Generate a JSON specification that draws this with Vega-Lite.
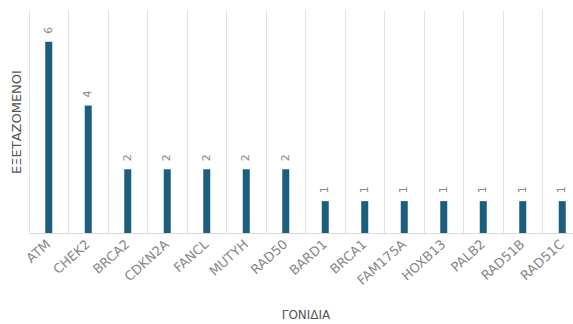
{
  "$schema": "https://vega.github.io/schema/vega-lite/v6.json",
  "autosize": {"type": "none"},
  "padding": {"left": 29, "top": 10, "right": -9, "bottom": 91},
  "width": 553,
  "height": 223,
  "background": "white",
  "config": {"view": {"stroke": null}, "font": "Roboto"},
  "data": {"values": [
    {"gene": "ATM", "count": 6},
    {"gene": "CHEK2", "count": 4},
    {"gene": "BRCA2", "count": 2},
    {"gene": "CDKN2A", "count": 2},
    {"gene": "FANCL", "count": 2},
    {"gene": "MUTYH", "count": 2},
    {"gene": "RAD50", "count": 2},
    {"gene": "BARD1", "count": 1},
    {"gene": "BRCA1", "count": 1},
    {"gene": "FAM175A", "count": 1},
    {"gene": "HOXB13", "count": 1},
    {"gene": "PALB2", "count": 1},
    {"gene": "RAD51B", "count": 1},
    {"gene": "RAD51C", "count": 1}
  ]},
  "encoding": {
    "x": {
      "field": "gene", "type": "nominal", "sort": null,
      "scale": {"paddingInner": 0, "paddingOuter": 0},
      "axis": {
        "title": "ΓΟΝΙΔΙΑ",
        "titleFontSize": 12, "titleFontWeight": "normal", "titleColor": "#555",
        "titleFont": "DejaVu Sans",
        "titleY": 76,
        "labelAngle": -42, "labelAlign": "right", "labelBaseline": "middle",
        "labelFont": "DejaVu Sans",
        "labelFontSize": 13, "labelColor": "#888", "labelPadding": 9,
        "ticks": false,
        "domainColor": "#d9d9d9",
        "grid": true, "gridColor": "#e2e2e2", "bandPosition": 0
      }
    },
    "y": {
      "field": "count", "type": "quantitative",
      "scale": {"domain": [0, 7], "nice": false},
      "axis": {
        "title": "ΕΞΕΤΑΖΟΜΕΝΟΙ",
        "titleFontSize": 13, "titleFontWeight": "normal", "titleColor": "#555",
        "titleFont": "DejaVu Sans",
        "titleX": -6, "titleY": 111.5,
        "labels": false, "ticks": false, "domain": false, "grid": false
      }
    }
  },
  "layer": [
    {"mark": {"type": "bar", "size": 7, "color": "#1b5e7e"}},
    {
      "mark": {"type": "text", "angle": -90, "align": "left", "baseline": "middle", "dx": 8, "fontSize": 11, "font": "DejaVu Sans", "color": "#888"},
      "encoding": {"text": {"field": "count", "type": "quantitative"}}
    }
  ]
}
